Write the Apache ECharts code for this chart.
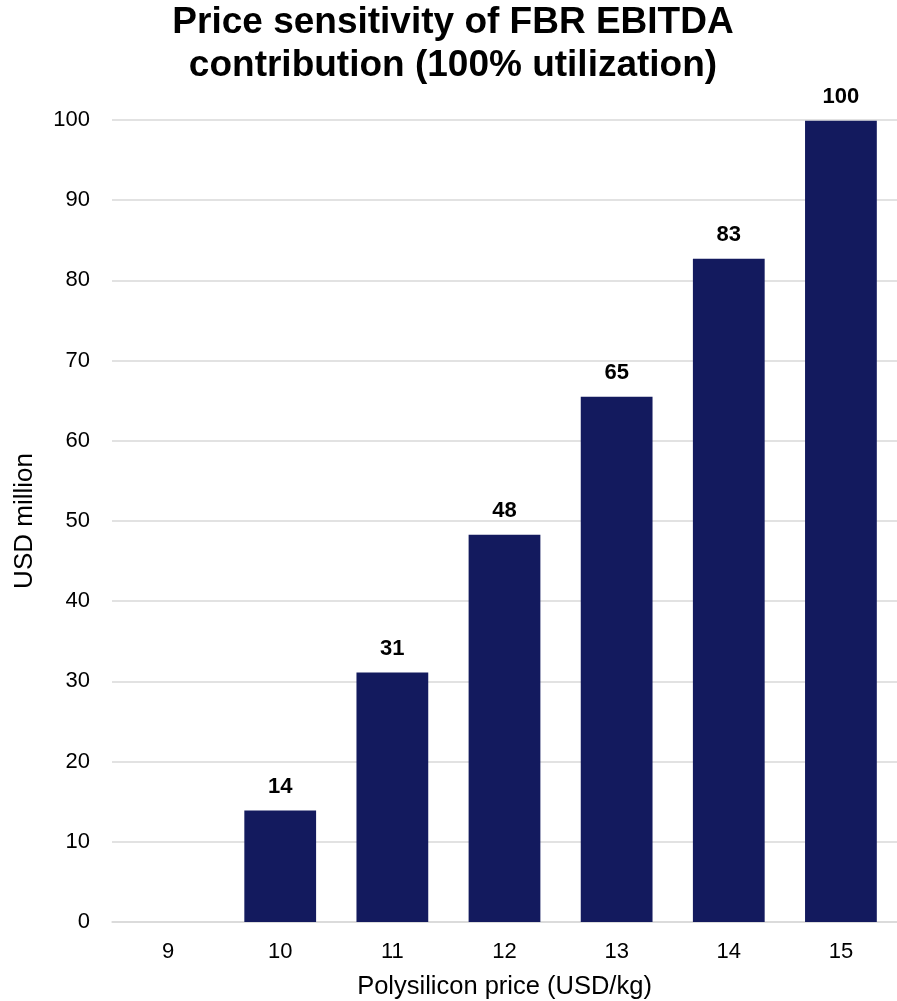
<!DOCTYPE html>
<html>
<head>
<meta charset="utf-8">
<script src="https://cdn.jsdelivr.net/npm/echarts@6/dist/echarts.min.js"></script>
<style>
html,body{margin:0;padding:0;background:#fff;overflow:hidden;}
#chart{width:897px;height:1001px;}
</style>
</head>
<body>
<div id="chart"></div>
<script>
const titleText = 'Price sensitivity of FBR EBITDA\ncontribution (100% utilization)';
const categories = ['9', '10', '11', '12', '13', '14', '15'];
const values = [0, 13.9, 31.1, 48.3, 65.5, 82.7, 99.9];
const barLabels = ['', '14', '31', '48', '65', '83', '100'];
const yTicks = [0, 10, 20, 30, 40, 50, 60, 70, 80, 90, 100];
const xAxisName = 'Polysilicon price (USD/kg)';
const yAxisName = 'USD million';

const FONT = '"Liberation Sans", Arial, sans-serif';
const chart = echarts.init(document.getElementById('chart'), null, {renderer: 'canvas'});
chart.setOption({
  backgroundColor: '#ffffff',
  animation: false,
  graphic: [{
    type: 'text',
    x: 453,
    y: 1,
    style: {
      text: titleText,
      fontFamily: FONT,
      fontSize: 37,
      fontWeight: 'bold',
      lineHeight: 43,
      fill: '#000',
      align: 'center',
      verticalAlign: 'top'
    }
  }],
  grid: {left: 112, right: 0, top: 120, bottom: 79, containLabel: false, outerBoundsMode: 'none'},
  xAxis: {
    type: 'category',
    data: categories,
    name: xAxisName,
    nameLocation: 'middle',
    nameGap: 52,
    nameTextStyle: {fontFamily: FONT, fontSize: 25.5, color: '#000'},
    axisLine: {show: true, lineStyle: {color: '#d9d9d9', width: 1.5}},
    axisTick: {show: false},
    axisLabel: {fontFamily: FONT, fontSize: 22, color: '#000', margin: 19}
  },
  yAxis: {
    type: 'value',
    min: yTicks[0],
    max: yTicks[yTicks.length - 1],
    interval: 10,
    name: yAxisName,
    nameLocation: 'middle',
    nameGap: 74,
    nameRotate: 90,
    nameTextStyle: {fontFamily: FONT, fontSize: 26, color: '#000'},
    axisLine: {show: false},
    axisTick: {show: false},
    splitLine: {lineStyle: {color: '#d9d9d9', width: 1.5}},
    axisLabel: {fontFamily: FONT, fontSize: 22, color: '#000', margin: 22}
  },
  series: [{
    type: 'bar',
    data: values,
    barWidth: '64%',
    itemStyle: {color: '#131a5e'},
    label: {
      show: true,
      position: 'top',
      distance: 13,
      fontFamily: FONT,
      fontSize: 22,
      fontWeight: 'bold',
      color: '#000',
      formatter: p => barLabels[p.dataIndex]
    }
  }]
});
</script>
</body>
</html>
